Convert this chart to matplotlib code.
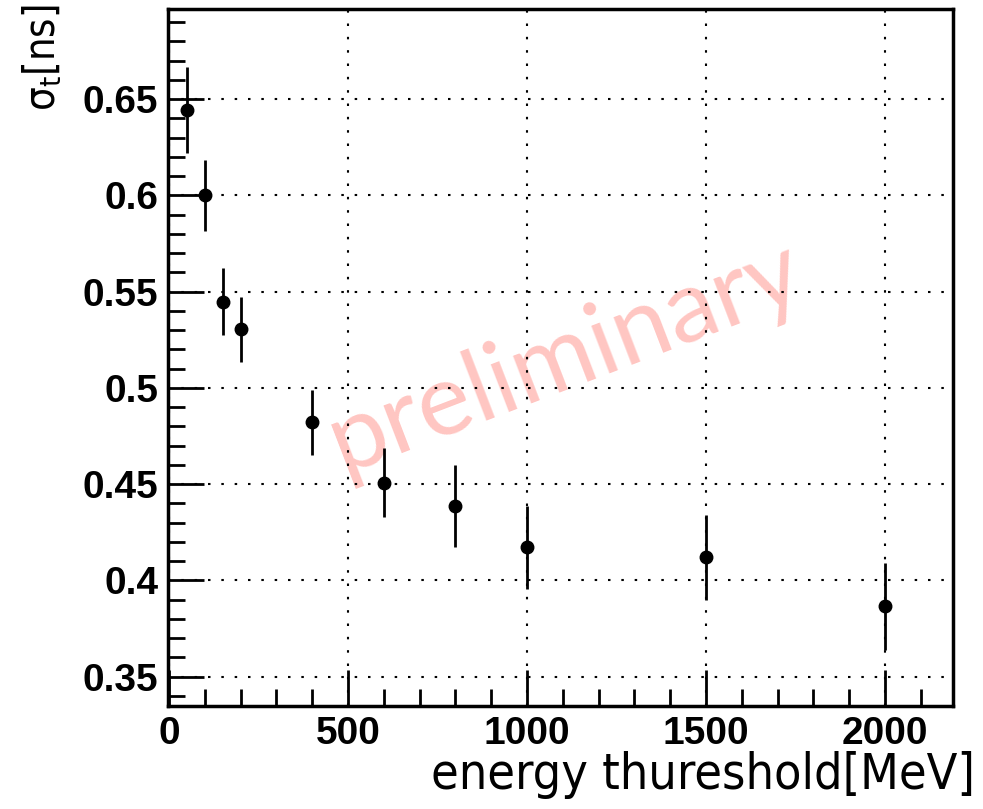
import matplotlib
matplotlib.use("Agg")
import matplotlib.pyplot as plt
from matplotlib.ticker import MultipleLocator, FixedLocator, FixedFormatter

# Data
threshold = [50, 100, 150, 200, 400, 600, 800, 1000, 1500, 2000]
sigma_t = [0.6444, 0.6000, 0.5448, 0.5304, 0.4821, 0.4508, 0.4387, 0.4173, 0.4121, 0.3866]
sigma_err = [0.0225, 0.0185, 0.0175, 0.0170, 0.0170, 0.0180, 0.0215, 0.0216, 0.0221, 0.0225]
xticks = [0, 500, 1000, 1500, 2000]
xtick_labels = ["0", "500", "1000", "1500", "2000"]
yticks = [0.35, 0.40, 0.45, 0.50, 0.55, 0.60, 0.65]
ytick_labels = ["0.35", "0.4", "0.45", "0.5", "0.55", "0.6", "0.65"]

W, H = 983, 809
fig = plt.figure(figsize=(W / 100, H / 100), dpi=100)
ax = fig.add_axes([168 / W, (H - 706) / H, (953 - 168) / W, (706 - 9) / H])

ax.errorbar(threshold, sigma_t, yerr=sigma_err, fmt='o', color='black',
            ms=9, elinewidth=2, capsize=0, zorder=5)

ax.set_xlim(-3, 2190)
ax.set_ylim(0.3348, 0.6968)

ax.xaxis.set_major_locator(FixedLocator(xticks))
ax.xaxis.set_major_formatter(FixedFormatter(xtick_labels))
ax.xaxis.set_minor_locator(MultipleLocator(100))
ax.yaxis.set_major_locator(FixedLocator(yticks))
ax.yaxis.set_major_formatter(FixedFormatter(ytick_labels))
ax.yaxis.set_minor_locator(MultipleLocator(0.01))

ax.set_axisbelow(False)
ax.grid(True, which='major', linestyle=(0, (1.2, 5.2)), color='black', linewidth=1.5, zorder=3)

ax.tick_params(axis='both', which='major', direction='in', length=26, width=2,
               labelsize=28, pad=7, top=False, right=False)
ax.tick_params(axis='both', which='minor', direction='in', length=12, width=2,
               top=False, right=False)
for lab in ax.get_xticklabels() + ax.get_yticklabels():
    lab.set_fontweight('bold')
    lab.set_family('Liberation Sans')

for s in ax.spines.values():
    s.set_linewidth(2.5)

fig.text(975 / W, 1 - 775 / H, "energy thureshold[MeV]", ha='right', va='center',
         fontsize=36, family='DejaVu Sans', fontstretch='condensed', fontweight='light')
fig.text(42 / W, 1 - 58 / H, r"σ$_\mathregular{t}$[ns]", rotation=90,
         ha='center', va='center', fontsize=30, family='DejaVu Sans',
         fontstretch='condensed', fontweight='light')

ax.text(0.506, 0.50, "preliminary", transform=ax.transAxes, rotation=21,
        ha='center', va='center', fontsize=73, color='#ffc6c2',
        family='Lato', fontweight='normal', zorder=1)

fig.savefig("out.png", dpi=100)
